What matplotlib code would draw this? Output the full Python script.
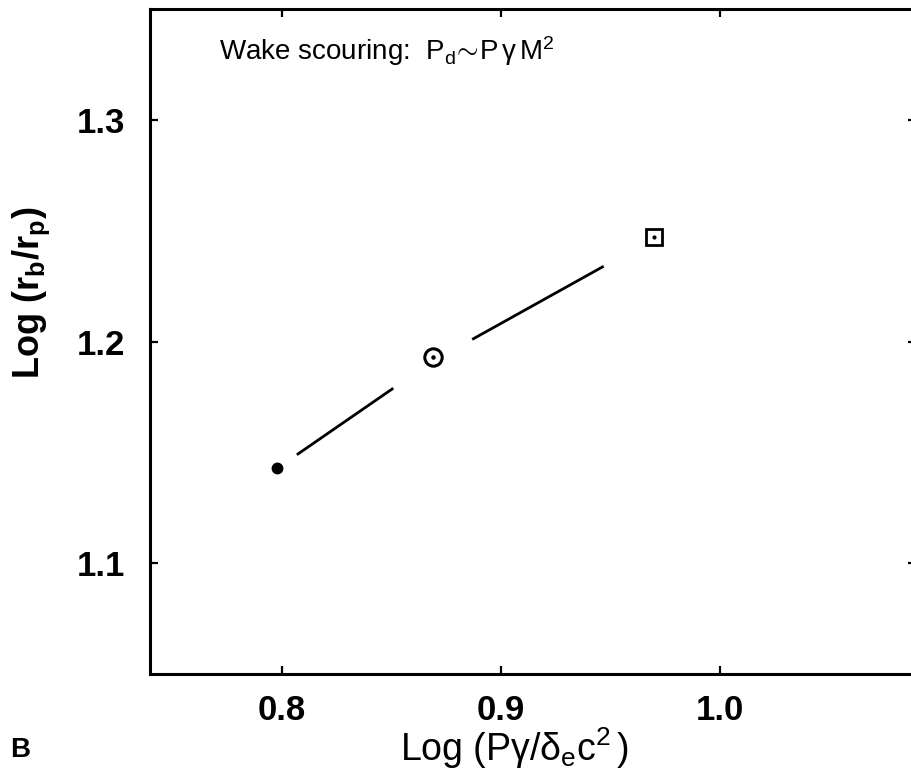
import matplotlib

matplotlib.use("Agg")
import matplotlib.pyplot as plt
import numpy as np

plt.rcParams["font.family"] = ["Liberation Sans", "DejaVu Sans"]
plt.rcParams["mathtext.fontset"] = "custom"
plt.rcParams["mathtext.rm"] = "Liberation Sans"
plt.rcParams["mathtext.it"] = "Liberation Sans"
plt.rcParams["mathtext.bf"] = "Liberation Sans:bold"

# data
point_x = [0.798, 0.869, 0.970]
point_y = [1.143, 1.193, 1.247]
point_kind = ["dot", "circle", "square"]

# fitted line, broken where it passes the circle symbol
fit_x = [0.807, 0.851, np.nan, 0.887, 0.947]
fit_y = [1.149, 1.179, np.nan, 1.201, 1.234]

x_ticks = [0.8, 0.9, 1.0]
x_ticklabels = ["0.8", "0.9", "1.0"]
y_ticks = [1.1, 1.2, 1.3]
y_ticklabels = ["1.1", "1.2", "1.3"]

fig = plt.figure(figsize=(9.11, 7.76), dpi=100)
ax = fig.add_axes([150 / 911, 101.7 / 776, 766 / 911, 665.3 / 776])

ax.plot(fit_x, fit_y, color="black", linewidth=2.0, solid_capstyle="butt")

for x, y, kind in zip(point_x, point_y, point_kind):
    if kind == "dot":
        ax.plot(x, y, "o", color="black", markersize=7.5)
    elif kind == "circle":
        ax.plot(x, y, "o", mfc="none", mec="black", mew=2.2, markersize=12.5)
        ax.plot(x, y, "o", color="black", markersize=2.2)
    else:
        ax.plot(x, y, "s", mfc="none", mec="black", mew=2.0, markersize=11)
        ax.plot(x, y, "o", color="black", markersize=2.0)

ax.set_xlim(0.74, 1.0895)
ax.set_ylim(1.05, 1.35)
ax.set_xticks(x_ticks, x_ticklabels)
ax.set_yticks(y_ticks, y_ticklabels)
for lab in ax.get_xticklabels() + ax.get_yticklabels():
    lab.set_fontweight("bold")

for s in ax.spines.values():
    s.set_linewidth(2.2)
ax.tick_params(direction="in", top=True, right=True, length=6, width=1.6,
               labelsize=25)
ax.tick_params(axis="x", pad=14)
ax.tick_params(axis="y", pad=18)

ax.set_xlabel(r"Log $(\mathrm{P}\gamma/\delta_\mathrm{e}\mathrm{c}^{2}\,)$",
              fontsize=27, va="center")
ax.xaxis.set_label_coords(0.475, -0.111)
ax.set_ylabel(r"Log $\mathbf{(r_b/r_p)}$", fontsize=26, fontweight="bold",
              va="center")
ax.yaxis.set_label_coords(-0.155, 0.574)

ax.text(0.09, 0.936, r"Wake scouring:  $\mathrm{P_d\!\sim\!P\,\gamma\,M^{2}}$",
        transform=ax.transAxes, fontsize=20, va="center", ha="left")

fig.text(20 / 911, 1 - 750 / 776, "B", fontsize=20, fontweight="bold",
         ha="center", va="center")

fig.savefig("out.png", dpi=100)
